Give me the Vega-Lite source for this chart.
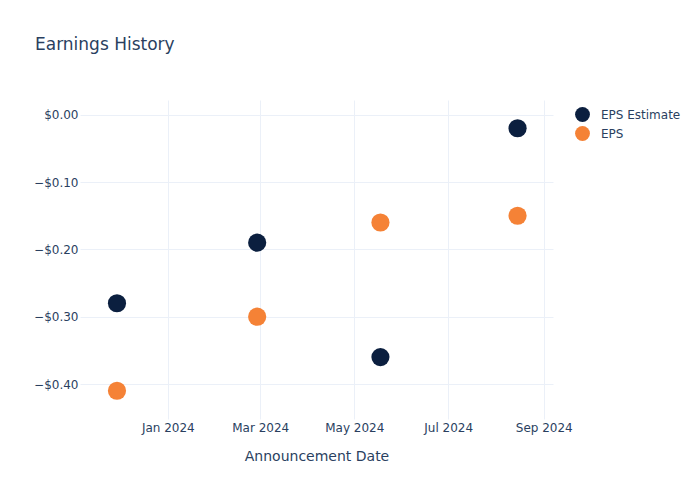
{
  "$schema": "https://vega.github.io/schema/vega-lite/v6.json",
  "autosize": "none",
  "width": 473,
  "height": 319,
  "padding": {"left": 80, "top": 100, "right": 147, "bottom": 81},
  "background": "white",
  "config": {
    "font": "DejaVu Sans",
    "view": {"stroke": null}
  },
  "title": {
    "text": "Earnings History",
    "anchor": "start",
    "frame": "group",
    "dx": -45,
    "offset": 46,
    "fontSize": 17,
    "fontWeight": "normal",
    "color": "#2a3f5f",
    "font": "DejaVu Sans"
  },
  "data": {
    "values": [
      {"date": "2023-11-29", "series": "EPS Estimate", "value": -0.28},
      {"date": "2024-02-28", "series": "EPS Estimate", "value": -0.19},
      {"date": "2024-05-18", "series": "EPS Estimate", "value": -0.36},
      {"date": "2024-08-15", "series": "EPS Estimate", "value": -0.02},
      {"date": "2023-11-29", "series": "EPS", "value": -0.41},
      {"date": "2024-02-28", "series": "EPS", "value": -0.30},
      {"date": "2024-05-18", "series": "EPS", "value": -0.16},
      {"date": "2024-08-15", "series": "EPS", "value": -0.15}
    ]
  },
  "mark": {"type": "point", "filled": true, "opacity": 1, "size": 330, "shape": "circle"},
  "encoding": {
    "x": {
      "field": "date",
      "type": "temporal",
      "title": "Announcement Date",
      "scale": {"domain": ["2023-11-05", "2024-09-07"], "nice": false},
      "axis": {
        "values": ["2024-01-01", "2024-03-01", "2024-05-01", "2024-07-01", "2024-09-01"],
        "format": "%b %Y",
        "domain": false,
        "ticks": false,
        "gridColor": "#ebf0f8",
        "labelColor": "#2a3f5f",
        "labelFontSize": 12,
        "labelPadding": 3,
        "titleColor": "#2a3f5f",
        "titleFontSize": 14,
        "titleFontWeight": "normal",
        "titlePadding": 16
      }
    },
    "y": {
      "field": "value",
      "type": "quantitative",
      "title": null,
      "scale": {"domain": [-0.452, 0.022], "nice": false, "zero": false},
      "axis": {
        "values": [0, -0.1, -0.2, -0.3, -0.4],
        "format": "$.2f",
        "domain": false,
        "ticks": false,
        "gridColor": "#ebf0f8",
        "labelColor": "#2a3f5f",
        "labelFontSize": 12,
        "labelPadding": 2
      }
    },
    "color": {
      "field": "series",
      "type": "nominal",
      "scale": {"domain": ["EPS Estimate", "EPS"], "range": ["#0b1f3f", "#f58236"]},
      "legend": {
        "title": null,
        "orient": "none",
        "legendX": 494,
        "legendY": 6,
        "symbolSize": 220,
        "symbolType": "circle",
        "symbolOpacity": 1,
        "labelFontSize": 12,
        "labelColor": "#2a3f5f",
        "rowPadding": 3,
        "labelOffset": 10
      }
    }
  }
}
